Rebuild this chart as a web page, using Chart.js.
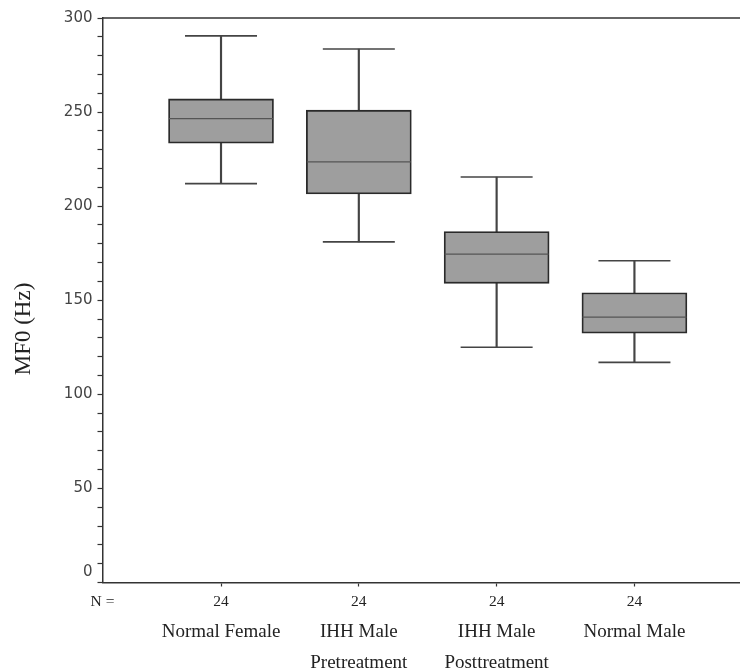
<!DOCTYPE html>
<html>
<head>
<meta charset="utf-8">
<script src="https://cdn.jsdelivr.net/npm/chart.js@4"></script>
<style>
  html, body { margin: 0; padding: 0; background: #fff; }
  canvas { display: block; }
</style>
</head>
<body>
<canvas id="mf0Chart" width="740" height="670"></canvas>
<script>
// groups and box statistics (Hz)
const groups = ['Normal Female', ['IHH Male', 'Pretreatment'], ['IHH Male', 'Posttreatment'], 'Normal Male'];
const nCounts = ['24', '24', '24', '24'];
const mins = [212, 181, 125, 117];
const q1s = [233.5, 206.5, 159, 132.5];
const medians = [246.5, 223.5, 174.5, 141];
const q3s = [257, 251, 186.5, 154];
const maxs = [290.5, 283.5, 215.5, 171];

const xs = groups.map((g, i) => i + 1);
const serif = "'Liberation Serif', 'DejaVu Serif', serif";
const ink = '#333';

function pts(vals) { return vals.map((v, i) => ({ x: xs[i], y: v })); }
function spans(lo, hi) { return lo.map((v, i) => ({ x: xs[i], y: [v, hi[i]] })); }

// top frame line, and the "0" label that sits a little above its tick
const frameExtras = {
  id: 'frameExtras',
  afterDraw(chart) {
    const y = chart.scales.y, a = chart.chartArea, c = chart.ctx;
    c.save();
    c.strokeStyle = ink;
    c.lineWidth = 1.5;
    c.beginPath();
    c.moveTo(a.left, a.top);
    c.lineTo(a.right, a.top);
    c.stroke();
    c.font = "15px 'DejaVu Sans', sans-serif";
    c.fillStyle = '#444';
    c.textAlign = 'right';
    c.textBaseline = 'middle';
    c.fillText('0', y.right - 10, y.getPixelForValue(0) - 10);
    c.restore();
  }
};

new Chart(document.getElementById('mf0Chart'), {
  data: {
    datasets: [
      { type: 'scatter', data: pts(medians), pointStyle: 'line', pointRadius: 52, pointHoverRadius: 52,
        pointBorderColor: '#555', pointBorderWidth: 1.3, order: 0 },
      { type: 'bar', data: spans(q1s, q3s), barThickness: 105, grouped: false,
        backgroundColor: '#9e9e9e', borderColor: '#2a2a2a', borderWidth: 1.8, borderSkipped: false, order: 1 },
      { type: 'bar', data: spans(q3s, maxs), barThickness: 1.5, grouped: false,
        backgroundColor: '#444', borderWidth: 0, order: 2 },
      { type: 'bar', data: spans(mins, q1s), barThickness: 1.5, grouped: false,
        backgroundColor: '#444', borderWidth: 0, order: 2 },
      { type: 'scatter', data: pts(maxs), pointStyle: 'line', pointRadius: 36, pointHoverRadius: 36,
        pointBorderColor: '#444', pointBorderWidth: 1.6, order: 2 },
      { type: 'scatter', data: pts(mins), pointStyle: 'line', pointRadius: 36, pointHoverRadius: 36,
        pointBorderColor: '#444', pointBorderWidth: 1.6, order: 2 }
    ]
  },
  options: {
    responsive: false,
    animation: false,
    layout: { autoPadding: false, padding: { top: 18, right: 0, left: 0, bottom: 0 } },
    plugins: { legend: { display: false }, tooltip: { enabled: false } },
    scales: {
      y: {
        position: 'left',
        min: 0, max: 300,
        afterFit(scale) { scale.width = 102.5; },
        ticks: {
          stepSize: 10,
          autoSkip: false,
          padding: 5,
          color: '#444',
          font: { family: "'DejaVu Sans', sans-serif", size: 15 },
          callback: v => (v % 50 === 0 && v !== 0) ? String(v) : ''
        },
        grid: { drawOnChartArea: false, tickLength: 5, tickColor: ink, tickWidth: 1.2 },
        border: { color: ink, width: 1.5 },
        // trailing spaces push the rotated title a little below the axis middle, as in the original
        title: { display: true, text: 'MF0 (Hz)' + ' '.repeat(10), color: '#222',
                 font: { family: serif, size: 23 }, padding: { top: 10, bottom: 0 } }
      },
      x: {
        type: 'linear',
        position: 'bottom',
        offset: false,
        weight: 0,
        min: 0.14, max: 4.766,
        afterFit(scale) { scale.height = 28; },
        afterBuildTicks(scale) { scale.ticks = [scale.min].concat(xs).map(v => ({ value: v })); },
        ticks: {
          autoSkip: false,
          maxRotation: 0,
          padding: 6,
          color: '#222',
          font: { family: serif, size: 15.5 },
          callback: (v, i) => i === 0 ? 'N =' : nCounts[i - 1]
        },
        grid: { offset: false, drawOnChartArea: false, tickLength: 4, tickWidth: 1.2,
                tickColor: c => c.index === 0 ? 'rgba(0,0,0,0)' : ink },
        border: { color: ink, width: 1.5 }
      },
      xc: {
        type: 'linear',
        position: 'bottom',
        offset: false,
        weight: 1,
        min: 0.14, max: 4.766,
        afterFit(scale) { scale.height = 59.5; },
        afterBuildTicks(scale) { scale.ticks = xs.map(v => ({ value: v })); },
        ticks: {
          autoSkip: false,
          maxRotation: 0,
          padding: 7,
          color: '#222',
          font: { family: serif, size: 19, lineHeight: 1.58 },
          callback: (v, i) => groups[i]
        },
        grid: { offset: false, display: false, drawTicks: false },
        border: { display: false }
      }
    }
  },
  plugins: [frameExtras]
});
</script>
</body>
</html>
